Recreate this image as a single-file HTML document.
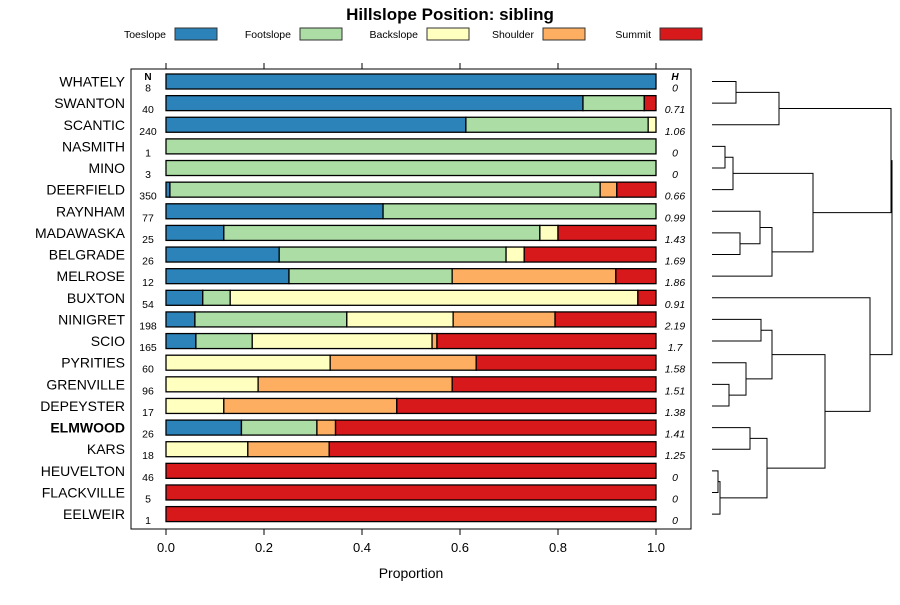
<!DOCTYPE html>
<html><head><meta charset="utf-8"><style>
body{margin:0;background:#fff;font-family:"Liberation Sans",sans-serif}
</style></head><body>
<svg id="c" width="900" height="600" xmlns="http://www.w3.org/2000/svg" font-family="Liberation Sans, sans-serif"></svg>
<script>
const series = ["Toeslope","Footslope","Backslope","Shoulder","Summit"];
const colors = ["#2b83ba","#abdda4","#ffffbf","#fdae61","#d7191c"];
const categories = ["WHATELY","SWANTON","SCANTIC","NASMITH","MINO","DEERFIELD","RAYNHAM","MADAWASKA","BELGRADE","MELROSE","BUXTON","NINIGRET","SCIO","PYRITIES","GRENVILLE","DEPEYSTER","ELMWOOD","KARS","HEUVELTON","FLACKVILLE","EELWEIR"];
const nValues = [8,40,240,1,3,350,77,25,26,12,54,198,165,60,96,17,26,18,46,5,1];
const hValues = ["0","0.71","1.06","0","0","0.66","0.99","1.43","1.69","1.86","0.91","2.19","1.7","1.58","1.51","1.38","1.41","1.25","0","0","0"];
const toeslope =  [1,0.851,0.612,0,0,0.008,0.443,0.118,0.231,0.251,0.075,0.059,0.061,0,0,0,0.154,0,0,0,0];
const footslope = [0,0.125,0.372,1,1,0.878,0.557,0.645,0.463,0.333,0.056,0.310,0.115,0,0,0,0.154,0,0,0,0];
const backslope = [0,0,0.016,0,0,0,0,0.037,0.037,0,0.832,0.217,0.367,0.335,0.188,0.118,0,0.167,0,0,0];
const shoulder =  [0,0,0,0,0,0.034,0,0,0,0.334,0,0.208,0.010,0.298,0.396,0.353,0.038,0.166,0,0,0];
const summit =    [0,0.024,0,0,0,0.080,0,0.200,0.269,0.082,0.037,0.206,0.447,0.367,0.416,0.529,0.654,0.667,1,1,1];
const xTicks = [0,0.2,0.4,0.6,0.8,1.0];
const xTickLabels = ["0.0","0.2","0.4","0.6","0.8","1.0"];
// dendrogram merges: [leftNode, rightNode, height]; leaves are 0..20, internal nodes 21+
const merges = [[0,1,736],[21,2,779],[3,4,725],[23,5,733],[7,8,740],[6,25,760],[26,9,772],[24,27,813],[22,28,891],
  [11,12,761],[14,15,729],[13,31,746],[30,32,772],[16,17,750],[18,19,718],[35,20,720],[34,36,767],[33,37,825],[10,38,870],[29,39,892]];

const svg=document.getElementById('c');const NS="http://www.w3.org/2000/svg";
function el(t,a,txt){const e=document.createElementNS(NS,t);for(const k in a)e.setAttribute(k,a[k]);if(txt!=null)e.textContent=txt;svg.appendChild(e);return e;}
const X0=166,X1=656,Y0=81.5,DY=21.63;
const xs=v=>X0+v*(X1-X0); const ys=i=>Y0+i*DY;
let t=el('text',{x:450,y:20,'text-anchor':'middle','font-size':17,'font-weight':'bold'},'Hillslope Position: sibling');

const legTX=[166,291,418,534,651];
series.forEach((s,i)=>{
  const tx=el('text',{x:legTX[i],y:38,'text-anchor':'end','font-size':10.5},s);
  
  const r=el('rect',{x:legTX[i]+9,y:28,width:42,height:12,fill:colors[i],stroke:'#333','stroke-width':1});
  
});
const box=el('rect',{x:131,y:69,width:560,height:460,fill:'none',stroke:'#000','stroke-width':1});

xTicks.forEach((v,i)=>{
  const a=el('line',{x1:xs(v),x2:xs(v),y1:63,y2:69,stroke:'#000'});
  
  const b=el('line',{x1:xs(v),x2:xs(v),y1:529,y2:535,stroke:'#000'});
  
  const l=el('text',{x:xs(v),y:552,'text-anchor':'middle','font-size':13},xTickLabels[i]);
  
});
t=el('text',{x:411,y:578,'text-anchor':'middle','font-size':14},'Proportion');

t=el('text',{x:148,y:80,'text-anchor':'middle','font-size':10,'font-weight':'bold'},'N');

t=el('text',{x:675,y:80,'text-anchor':'middle','font-size':10,'font-weight':'bold','font-style':'italic'},'H');

const vals=[toeslope,footslope,backslope,shoulder,summit];
categories.forEach((c,i)=>{
  const y=ys(i);
  const lab=el('text',{x:125,y:y+5,'text-anchor':'end','font-size':14,'font-weight':c==='ELMWOOD'?'bold':'normal'},c);
  
  const n=el('text',{x:148,y:y+10,'text-anchor':'middle','font-size':10.5},String(nValues[i]));
  
  const h=el('text',{x:675,y:y+10,'text-anchor':'middle','font-size':10.5,'font-style':'italic'},hValues[i]);
  
  let cum=0;
  vals.forEach((arr,k)=>{
    const v=arr[i]; if(v<=0){return;}
    const r=el('rect',{x:xs(cum),y:y-7.5,width:xs(cum+v)-xs(cum),height:15,fill:colors[k],stroke:'#000','stroke-width':1.3});
    
    cum+=v;
  });
});
// dendrogram
const LX=712; const nodes=[];
categories.forEach((c,i)=>nodes.push({x:LX,y:ys(i)}));
merges.forEach(m=>{
  const a=nodes[m[0]],b=nodes[m[1]],hx=m[2];
  const p=el('path',{d:`M${a.x},${a.y}H${hx}V${b.y}H${b.x}`,fill:'none',stroke:'#000','stroke-width':1});
  
  nodes.push({x:hx,y:(a.y+b.y)/2});
});
</script>
</body></html>
